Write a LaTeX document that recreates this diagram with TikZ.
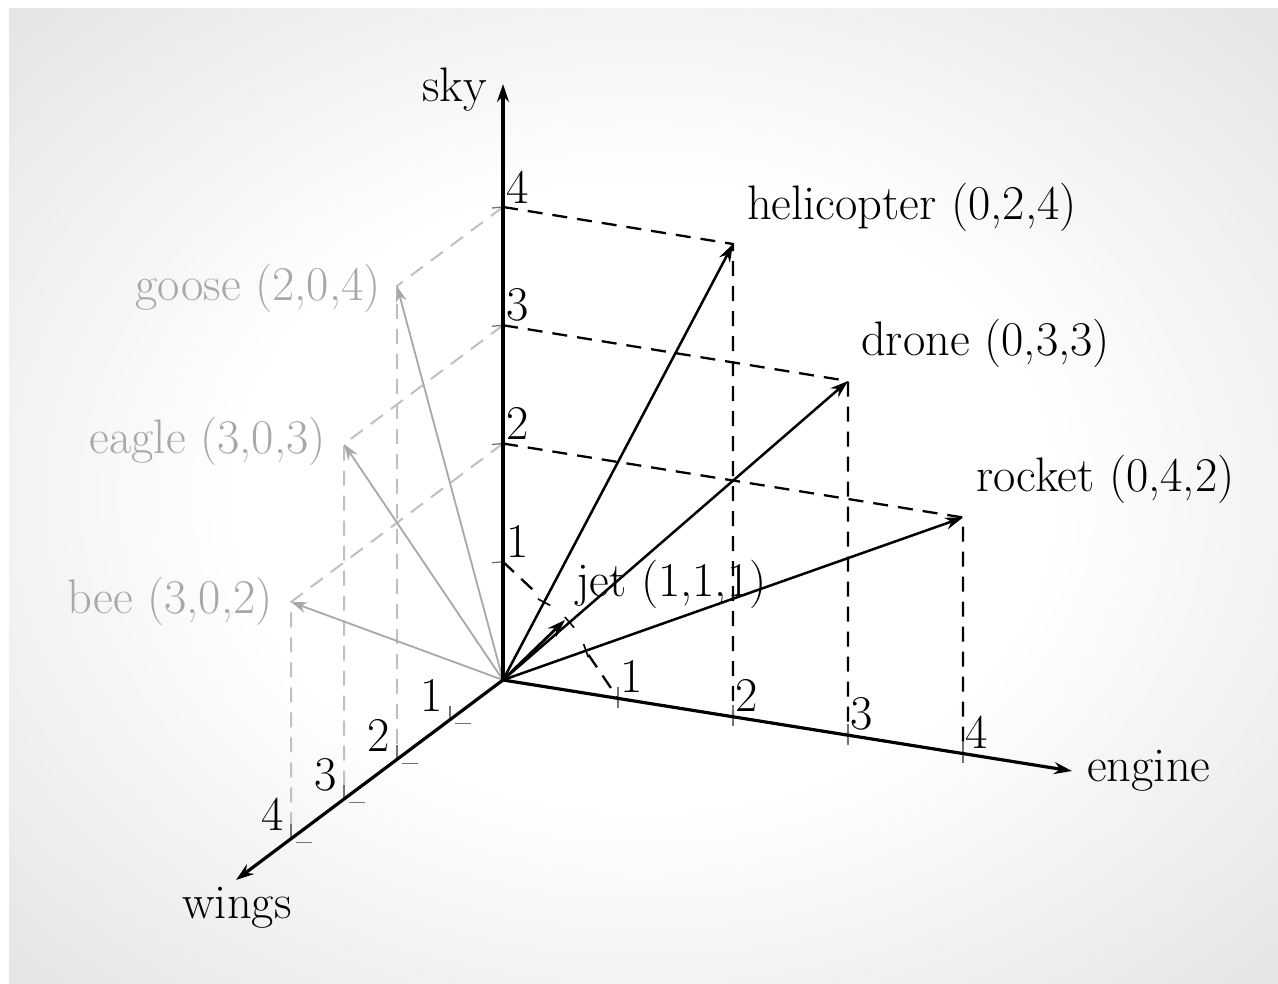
\documentclass[tikz,border=0pt]{standalone}
\usetikzlibrary{arrows.meta,calc}
\definecolor{ghost}{RGB}{168,168,168}
\definecolor{ghostl}{RGB}{192,192,192}
\definecolor{edgegrey}{RGB}{222,222,222}
\pgfdeclareradialshading{bgshade}{\pgfpoint{0bp}{0bp}}{color(0bp)=(white); color(16bp)=(white); color(40bp)=(edgegrey); color(60bp)=(edgegrey)}
\begin{document}
\begin{tikzpicture}[x=1pt,y=-1pt]
\tikzset{
 ax/.style={line width=3.2pt, -{Stealth[length=18pt,width=12pt]}},
 vec/.style={line width=2.5pt, -{Stealth[length=18pt,width=12pt]}},
 gvec/.style={line width=1.8pt, ghost, -{Stealth[length=16pt,width=11pt]}},
 proj/.style={line width=2.3pt, dash pattern=on 15pt off 10pt},
 gproj/.style={line width=2pt, ghostl, dash pattern=on 15pt off 10pt},
 lbl/.style={inner sep=0pt, font=\fontsize{48.5}{56}\selectfont},
 glbl/.style={lbl, text=ghost},
 tickmark/.style={line width=1.3pt, black!55}
}
\useasboundingbox (0,0) rectangle (1278,984);
\fill[white] (0,0) rectangle (1278,984);
\shade[shading=bgshade] (9,9) rectangle (1278,984);

% points
\coordinate (O) at (503,680);
\coordinate (S1) at (503,561.75);
\coordinate (S2) at (503,443.5);
\coordinate (S3) at (503,325.25);
\coordinate (S4) at (503,207);
\coordinate (Stip) at (503,84);
\coordinate (E1) at (618,698.5);
\coordinate (E2) at (733,717);
\coordinate (E3) at (848,735.5);
\coordinate (E4) at (963,754);
\coordinate (Etip) at (1072,771);
\coordinate (W1) at (450,719.6);
\coordinate (W2) at (397,759.2);
\coordinate (W3) at (344,798.8);
\coordinate (W4) at (291,838.4);
\coordinate (Wtip) at (236,880);
\coordinate (H) at (733,244);
\coordinate (D) at (848,381);
\coordinate (R) at (963,517.5);
\coordinate (J) at (565,620);
\coordinate (G) at (397,286);
\coordinate (Ea) at (344,444);
\coordinate (B) at (291,602);

% grey projections
\draw[gproj] (S4) -- (G) -- (W2);
\draw[gproj] (S3) -- (Ea) -- (W3);
\draw[gproj] (S2) -- (B) -- (W4);

% grey vectors
\draw[gvec] (O) -- (G);
\draw[gvec] (O) -- (Ea);
\draw[gvec] (O) -- (B);

% black projections
\draw[proj] (S4) -- (H) -- (E2);
\draw[proj] (S3) -- (D) -- (E3);
\draw[proj] (S2) -- (R) -- (E4);
\draw[proj, shorten >=36pt] (S1) -- (J);
\draw[proj, shorten <=42pt] (J) -- (E1);

% axis tick marks
\foreach \k in {1,2,3,4} {
  \draw[tickmark] ($(S\k)+(-11,1)$) -- (S\k);
  \draw[tickmark] ($(E\k)+(0,-12)$) -- ($(E\k)+(0,9)$);
  \draw[tickmark] ($(W\k)+(5,4)$) -- ++(16,0);
  \draw[tickmark] (W\k) -- ++(0,-14);
}

% axes
\draw[ax] (O) -- (Stip);
\draw[ax] (O) -- (Etip);
\draw[ax] (O) -- (Wtip);

% vectors
\draw[vec] (O) -- (H);
\draw[vec] (O) -- (D);
\draw[vec] (O) -- (R);
\draw[vec, line width=2.8pt] (O) -- (J);

% small ticks on the vectors
\foreach \p in {H,D,R} {
  \draw[line width=1.6pt] ($(O)!88pt!(\p)!7pt!90:(O)$) -- ($(O)!88pt!(\p)!7pt!-90:(O)$);
}

% axis labels
\node[lbl, anchor=east] (skyl) at (487,90) {sky};
\node[lbl, anchor=west] (engl) at (1087,771) {engine};
\node[lbl] (wingl) at (237,908) {wings};

% tick numbers
\foreach \k in {1,2,3,4} {
  \node[lbl] (ns\k) at ($(S\k)+(15,-20)$) {\k};
  \node[lbl] (ne\k) at ($(E\k)+(14,-22)$) {\k};
  \node[lbl] (nw\k) at ($(W\k)+(-18,-24)$) {\k};
}

% vector labels
\node[lbl, anchor=west] (hl) at (747,207) {helicopter (0,2,4)};
\node[lbl, anchor=west] (dl) at (861,343) {drone (0,3,3)};
\node[lbl, anchor=west] (rl) at (976,479) {rocket (0,4,2)};
\node[lbl, anchor=west] (jl) at (576,584) {jet (1,1,1)};
\node[glbl, anchor=east] (gl) at (381,288) {goose (2,0,4)};
\node[glbl, anchor=east] (el) at (326,441) {eagle (3,0,3)};
\node[glbl, anchor=east] (bl) at (273,601) {bee (3,0,2)};
\end{tikzpicture}
\end{document}
